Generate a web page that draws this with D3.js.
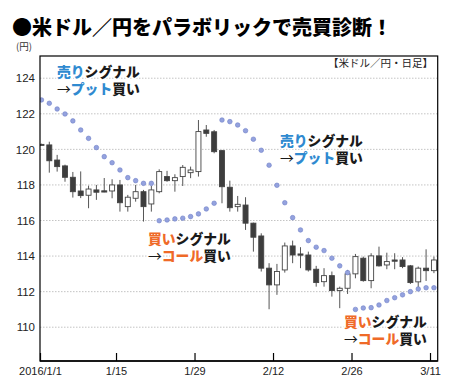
<!DOCTYPE html>
<html>
<head>
<meta charset="utf-8">
<script src="https://cdn.jsdelivr.net/npm/d3@7"></script>
<style>
  body { margin: 0; background: #fff; }
  svg { display: block; }
</style>
</head>
<body>
<svg id="chart" width="456" height="387"></svg>
<script>
// trading days shown on the chart
var dates = ["1/1",
  "1/4","1/5","1/6","1/7","1/8","1/11","1/12","1/13","1/14","1/15",
  "1/18","1/19","1/20","1/21","1/22","1/25","1/26","1/27","1/28","1/29",
  "2/1","2/2","2/3","2/4","2/5","2/8","2/9","2/10","2/11","2/12",
  "2/15","2/16","2/17","2/18","2/19","2/22","2/23","2/24","2/25","2/26",
  "2/29","3/1","3/2","3/3","3/4","3/7","3/8","3/9","3/10","3/11"];

var openV = [120.28,
  120.25,119.40,119.07,118.43,117.66,117.42,117.72,117.67,117.66,118.00,
  116.78,117.25,117.62,116.93,117.62,118.47,118.24,118.47,118.69,118.75,
  121.09,120.99,119.93,117.87,116.78,116.87,115.85,115.13,113.32,112.38,
  113.22,114.57,114.12,114.06,113.26,112.56,112.90,112.06,112.19,113.00,
  113.88,112.62,114.01,113.50,113.78,113.78,113.45,112.55,113.32,113.18];

var highV = [120.32,
  120.43,119.69,119.14,118.73,118.76,117.96,118.00,118.39,118.32,118.28,
  117.44,118.00,117.72,117.94,118.88,118.79,118.60,119.12,119.03,121.65,
  121.37,121.09,119.97,118.24,117.38,117.31,115.88,115.28,113.60,113.56,
  114.76,114.87,114.50,114.25,113.45,113.32,113.13,112.28,113.22,114.12,
  113.97,114.16,114.53,114.19,114.16,113.94,113.50,113.41,114.38,113.97];

var lowV = [120.24,
  118.69,118.75,118.18,117.29,117.26,116.69,117.16,117.59,117.25,116.50,
  116.50,117.06,115.94,116.50,117.53,118.18,117.62,117.94,118.38,118.47,
  120.71,119.78,116.97,116.50,116.50,115.47,114.25,113.13,111.01,111.82,
  113.07,113.60,113.32,113.13,112.28,112.28,111.72,111.07,111.87,112.75,
  112.56,112.19,113.41,113.26,113.26,113.32,112.43,112.19,112.60,113.04];

var closeV = [120.26,
  119.36,119.03,118.43,117.62,117.40,117.77,117.59,117.60,118.00,117.00,
  117.31,117.62,116.78,117.72,118.75,118.24,118.41,118.99,118.84,121.00,
  120.90,119.87,117.90,116.72,116.91,115.85,115.06,113.32,112.38,113.13,
  114.57,114.06,114.05,113.22,112.51,112.90,112.06,112.19,113.00,113.97,
  112.62,114.01,113.45,113.69,113.71,113.41,112.51,113.32,113.18,113.78];

// parabolic SAR
var sarV = [122.78,
  122.59,122.27,121.99,121.60,121.09,120.62,120.10,119.59,119.25,118.84,
  118.41,118.24,118.09,118.09,115.99,116.03,116.09,116.13,116.22,116.37,
  116.65,116.97,121.65,121.56,121.37,121.05,120.57,119.95,119.11,117.98,
  117.00,116.16,115.47,114.87,114.50,114.31,113.88,113.45,113.07,111.00,
  111.08,111.10,111.25,111.50,111.66,111.82,112.00,112.15,112.22,112.22];

var yTicks = [110, 112, 114, 116, 118, 120, 122, 124];
var tickDates = ["1/1", "1/15", "1/29", "2/12", "2/26", "3/11"];
var tickLabels = ["2016/1/1", "1/15", "1/29", "2/12", "2/26", "3/11"];

var title = "●米ドル／円をパラボリックで売買診断！";
var unitLabel = "(円)";
var sourceLabel = "【米ドル／円・日足】";

var blue = "#2f8ad0", orange = "#ef6a28", ink = "#1a1a1a";

// annotation blocks: [text, color] pieces per line
var notes = [
  { x: 57, y: 77, lines: [[["売り", blue], ["シグナル", ink]], [["→", ink], ["プット", blue], ["買い", ink]]] },
  { x: 280, y: 146, lines: [[["売り", blue], ["シグナル", ink]], [["→", ink], ["プット", blue], ["買い", ink]]] },
  { x: 148, y: 244, lines: [[["買い", orange], ["シグナル", ink]], [["→", ink], ["コール", orange], ["買い", ink]]] },
  { x: 344, y: 327, lines: [[["買い", orange], ["シグナル", ink]], [["→", ink], ["コール", orange], ["買い", ink]]] }
];

var margin = { top: 56, right: 18.3, bottom: 26, left: 40 },
    width = 456,
    height = 387,
    plotW = width - margin.left - margin.right,
    plotH = height - margin.top - margin.bottom;

var svg = d3.select('#chart');
var jp = '"Noto Sans CJK JP", "Noto Sans", sans-serif';
var latin = '"Liberation Sans", Arial, sans-serif';

var data = dates.map(function(d, i) {
    return { date: d, i: i, o: openV[i], h: highV[i], l: lowV[i], c: closeV[i], sar: sarV[i] };
});

var x = d3.scaleLinear()
    .domain([-0.185, dates.length - 0.52])
    .range([0, plotW]);

var y = d3.scaleLinear()
    .domain([108.1, 125.25])
    .range([plotH, 0]);

// title & labels
svg.append('text')
    .attr('x', 12).attr('y', 35)
    .style('font-family', jp).style('font-weight', 900).style('font-size', '20px')
    .style('fill', '#000')
    .text(title);

svg.append('text')
    .attr('x', 16).attr('y', 50)
    .style('font-family', jp).style('font-size', '9.5px').style('fill', '#333')
    .text(unitLabel);

var g = svg.append('g')
    .attr('transform', 'translate(' + margin.left + ',' + margin.top + ')');

g.append('clipPath').attr('id', 'plot-clip')
  .append('rect').attr('width', plotW).attr('height', plotH);

// grid
g.append('g').selectAll('line')
    .data(yTicks)
    .enter().append('line')
    .attr('x1', 0).attr('x2', plotW)
    .attr('y1', function(d) { return y(d); })
    .attr('y2', function(d) { return y(d); })
    .style('stroke', '#b5b5b5')
    .style('stroke-width', 0.8)
    .style('stroke-dasharray', '1.5,1.5');

// y axis labels
var yAxis = d3.axisLeft(y).tickValues(yTicks).tickSize(0).tickPadding(5);
g.append('g').call(yAxis)
    .call(function(s) { s.select('.domain').remove(); })
    .selectAll('text')
    .style('font-family', latin).style('font-size', '11.5px').style('fill', '#222');

// x axis
var tickPos = tickDates.map(function(d, k) {
    var idx = dates.indexOf(d);
    return k === 0 ? x.domain()[0] : idx - 0.5;
});
var xAxis = d3.axisBottom(x)
    .tickValues(tickPos)
    .tickFormat(function(d, k) { return tickLabels[k]; })
    .tickSizeInner(-8).tickSizeOuter(0).tickPadding(6);
var xg = g.append('g').attr('transform', 'translate(0,' + plotH + ')').call(xAxis);
xg.select('.domain').remove();
xg.selectAll('line').style('stroke', '#000').style('stroke-width', 1.2);
xg.selectAll('text')
    .style('font-family', latin).style('font-size', '11px').style('fill', '#222');

// candles
var marks = g.append('g').attr('clip-path', 'url(#plot-clip)');
var bodyW = 5;

var candle = marks.selectAll('g.candle')
    .data(data)
    .enter().append('g')
    .attr('class', 'candle');

candle.append('line')
    .attr('x1', function(d) { return x(d.i); })
    .attr('x2', function(d) { return x(d.i); })
    .attr('y1', function(d) { return y(d.h); })
    .attr('y2', function(d) { return y(d.l); })
    .style('stroke', '#555')
    .style('stroke-width', 1);

candle.append('rect')
    .attr('x', function(d) { return x(d.i) - bodyW / 2; })
    .attr('width', bodyW)
    .attr('y', function(d) { return y(Math.max(d.o, d.c)); })
    .attr('height', function(d) { return Math.max(1, Math.abs(y(d.o) - y(d.c))); })
    .style('fill', function(d) { return d.c >= d.o ? '#fff' : '#3d3d3d'; })
    .style('stroke', '#444')
    .style('stroke-width', 0.9);

// SAR dots
marks.selectAll('circle.sar')
    .data(data)
    .enter().append('circle')
    .attr('class', 'sar')
    .attr('cx', function(d) { return x(d.i); })
    .attr('cy', function(d) { return y(d.sar); })
    .attr('r', 2.3)
    .style('fill', '#94a2de')
    .style('stroke', '#6f80c8')
    .style('stroke-width', 0.6);

// frame
g.append('rect')
    .attr('width', plotW).attr('height', plotH)
    .style('fill', 'none')
    .style('stroke', '#000')
    .style('stroke-width', 1.2);
g.append('line')
    .attr('x1', 0).attr('x2', plotW)
    .attr('y1', plotH).attr('y2', plotH)
    .style('stroke', '#000').style('stroke-width', 1.6);

svg.append('text')
    .attr('x', 433).attr('y', 67)
    .attr('text-anchor', 'end')
    .style('font-family', jp).style('font-size', '10.5px').style('fill', '#222')
    .text(sourceLabel);

// signal notes
notes.forEach(function(n) {
    n.lines.forEach(function(line, li) {
        var t = svg.append('text')
            .attr('x', n.x).attr('y', n.y + li * 17)
            .style('font-family', jp).style('font-weight', 900).style('font-size', '13.8px')
            .style('stroke', '#fff').style('stroke-width', 3)
            .style('paint-order', 'stroke').style('stroke-linejoin', 'round');
        line.forEach(function(p) {
            t.append('tspan').style('fill', p[1])
                .style('font-weight', p[0] === '→' ? 400 : 900)
                .text(p[0]);
        });
    });
});
</script>
</body>
</html>
